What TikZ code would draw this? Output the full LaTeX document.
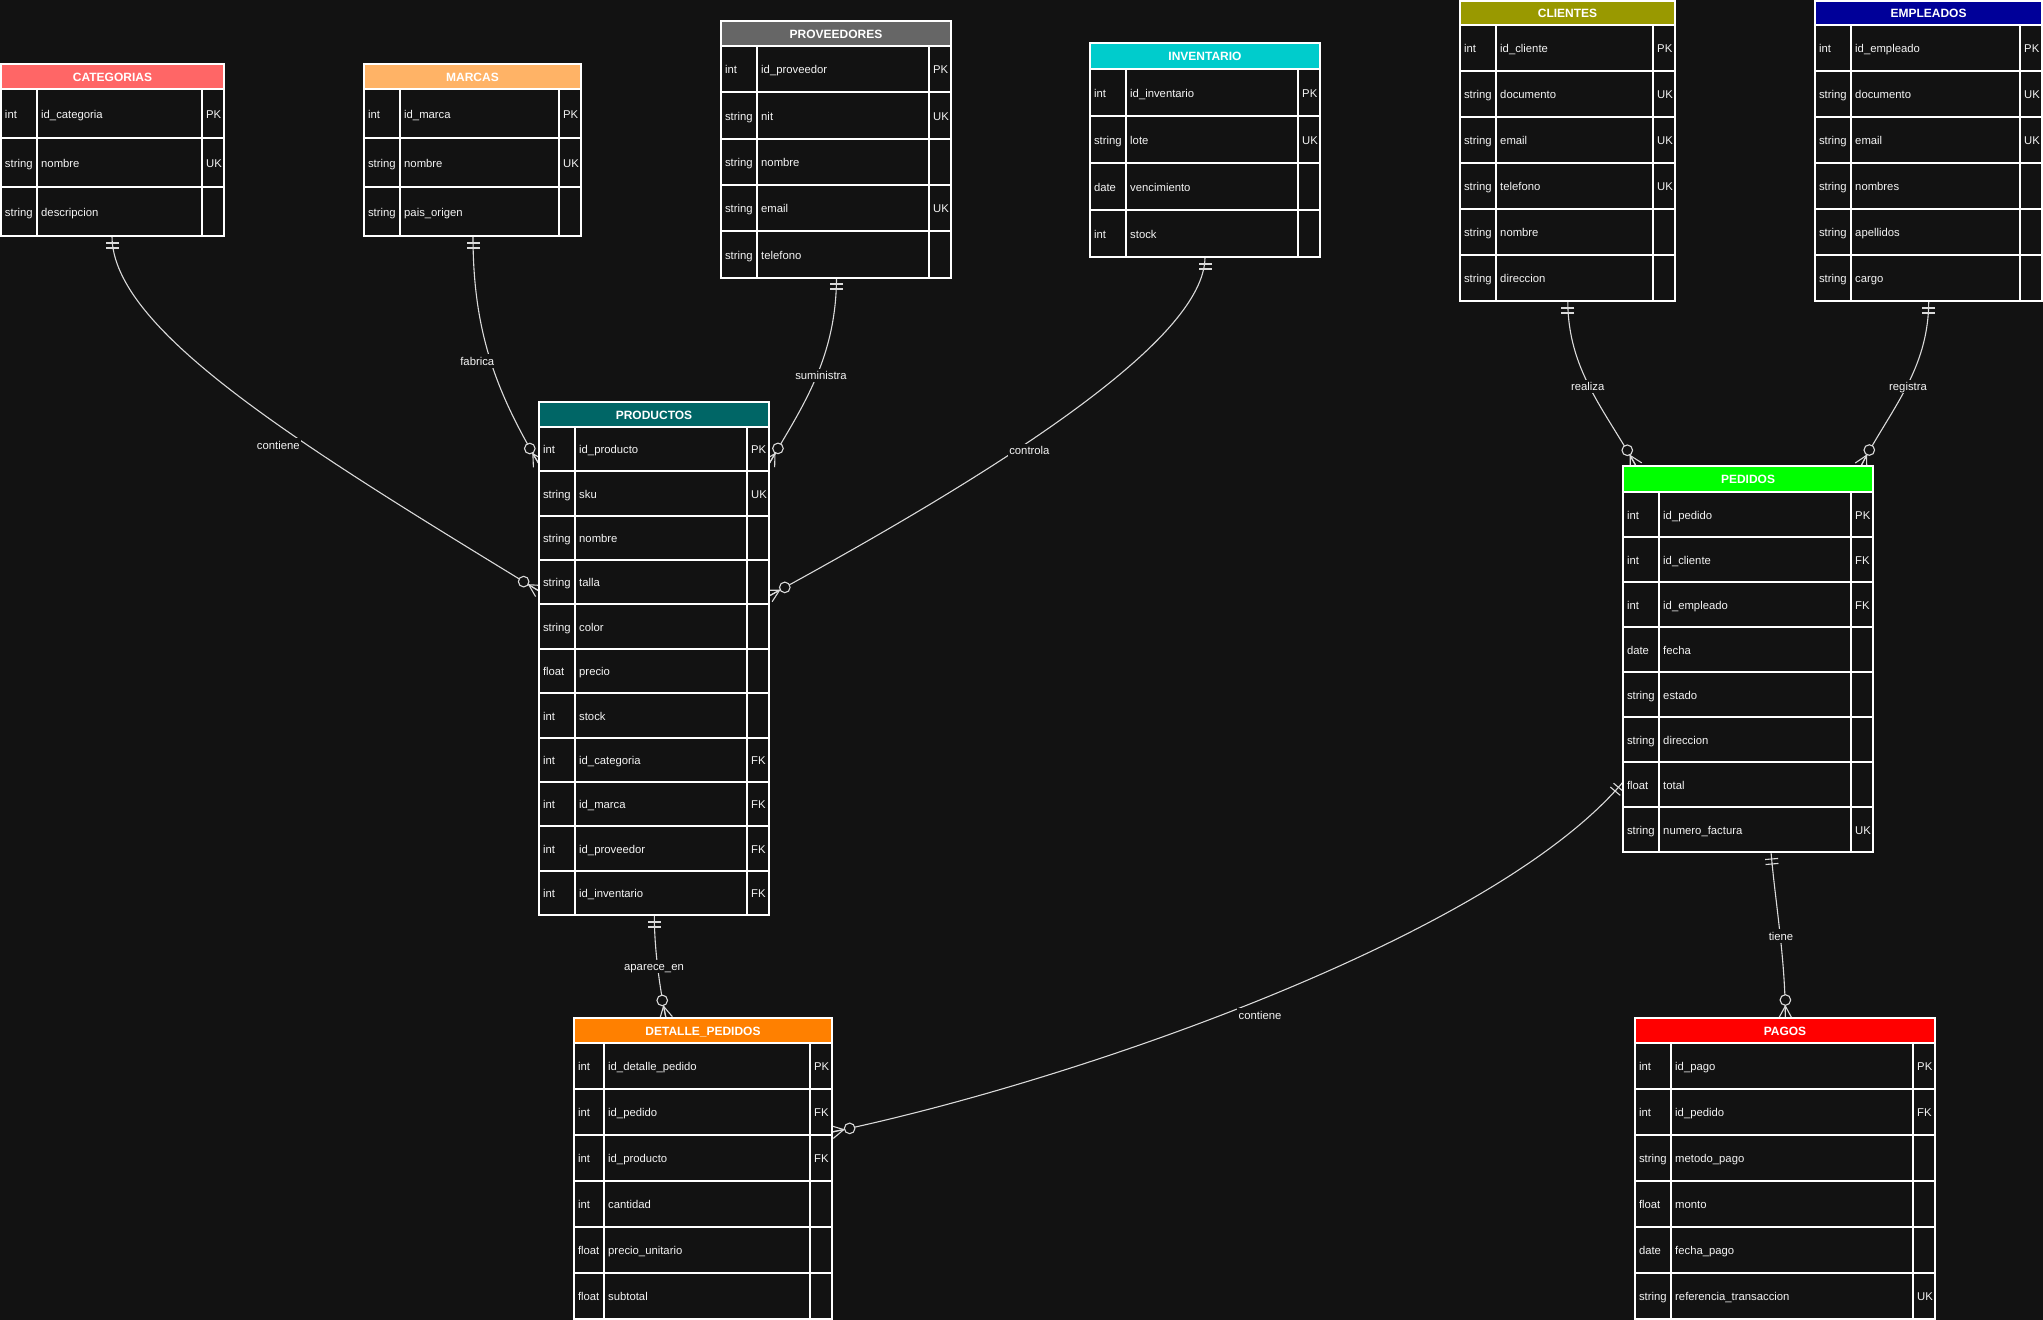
\documentclass[tikz,border=0pt]{standalone}
\usepackage{fontspec}
\setmainfont{Liberation Sans}
\usetikzlibrary{calc,fit}
\definecolor{bg}{HTML}{121212}
\definecolor{txt}{HTML}{F4F4F4}
\definecolor{lnc}{HTML}{DADADA}
\definecolor{cCat}{HTML}{FF6666}
\definecolor{cMar}{HTML}{FFB366}
\definecolor{cPro}{HTML}{666666}
\definecolor{cInv}{HTML}{00CCCC}
\definecolor{cCli}{HTML}{999900}
\definecolor{cEmp}{HTML}{000099}
\definecolor{cPrd}{HTML}{006666}
\definecolor{cPed}{HTML}{00FF00}
\definecolor{cDet}{HTML}{FF8000}
\definecolor{cPag}{HTML}{FF0000}
\tikzset{
  tbl/.style={draw=white, line width=1.2pt},
  fld/.style={text=txt, font=\fontsize{11.3}{13}\selectfont, inner sep=0pt, anchor=west, text height=9pt, text depth=0pt},
  hdr/.style={text=white, font=\bfseries\fontsize{12}{14}\selectfont, inner sep=0pt, text height=9.4pt, text depth=0pt},
  rel/.style={draw=lnc, line width=1.1pt},
  lbl/.style={fill=bg, text=txt, font=\fontsize{11.3}{13}\selectfont, inner sep=1.6pt, text height=9pt, text depth=1pt},
}
\def\ERgeo#1/#2/#3/#4/#5/#6\relax{\def\gxa{#1}\def\gxb{#2}\def\gya{#3}\def\gyh{#4}\def\grh{#5}\def\gtw{#6}}
\newcommand{\ERtable}[5]{%
  \ERgeo#2\relax
  \foreach \ty/\nm/\ky [count=\n] in {#5} {\xdef\gN{\n}}%
  \pgfmathsetmacro\gtc{round(\gxa+\gtw)}%
  \pgfmathsetmacro\gkc{round(\gxb-22)}%
  \pgfmathsetmacro\gxm{(\gxa+\gxb)/2}%
  \pgfmathsetmacro\gyhm{(\gya+\gyh)/2}%
  \pgfmathsetmacro\gbot{round(\gyh+\gN*\grh)}%
  \fill[#3] (\gxa,\gya) rectangle (\gxb,\gyh);
  \fill[bg] (\gxa,\gyh) rectangle (\gxb,\gbot);
  \node[hdr] (#1-h) at (\gxm,\gyhm) {#4};
  \draw[tbl] (\gtc,\gyh) -- (\gtc,\gbot) (\gkc,\gyh) -- (\gkc,\gbot);
  \foreach \ty/\nm/\ky [count=\i] in {#5} {
    \pgfmathsetmacro\ra{round(\gyh+(\i-1)*\grh)}
    \pgfmathsetmacro\rb{round(\gyh+\i*\grh)}
    \pgfmathsetmacro\rowmid{(\ra+\rb)/2}
    \draw[tbl] (\gxa,\rb) -- (\gxb,\rb);
    \node[fld] (#1-t\i) at (\gxa+3.8,\rowmid) {\ty};
    \node[fld] (#1-n\i) at (\gtc+4,\rowmid) {\nm};
    \node[fld] (#1-k\i) at (\gkc+4,\rowmid) {\ky};
  }
  \draw[tbl] (\gxa,\gyh) -- (\gxb,\gyh);
  \draw[tbl] (\gxa,\gya) rectangle (\gxb,\gbot);
  \coordinate (#1-nw) at (\gxa,\gya);
  \coordinate (#1-se) at (\gxb,\gbot);
  \node[fit=(#1-nw)(#1-se), inner sep=0pt] (#1) {};
}
\newcommand\markone[2]{%
  \coordinate (#1-m1) at ($(#1)!7pt!(#2)$);
  \coordinate (#1-m2) at ($(#1)!12pt!(#2)$);
  \draw[rel] ($(#1-m1)!6.5pt!90:(#2)$) -- ($(#1-m1)!6.5pt!-90:(#2)$);
  \draw[rel] ($(#1-m2)!6.5pt!90:(#2)$) -- ($(#1-m2)!6.5pt!-90:(#2)$);
}
\newcommand\markmany[2]{%
  \coordinate (#1-ap) at ($(#1)!12pt!(#2)$);
  \coordinate (#1-cc) at ($(#1)!18pt!(#2)$);
  \draw[rel] ($(#1)!6.5pt!90:(#2)$) -- (#1-ap) -- ($(#1)!6.5pt!-90:(#2)$);
  \draw[rel] (#1-ap) -- (#1);
  \draw[rel, fill=bg] (#1-cc) circle[radius=5.3pt];
}
\begin{document}
\begin{tikzpicture}[x=1pt,y=-1pt]
\fill[bg] (0,0) rectangle (2043,1320);
\useasboundingbox (0,0) rectangle (2043,1320);

% connector end points and control points
\coordinate (s1) at (112,236);     \coordinate (s1c) at (112,330);
\coordinate (e1) at (539,591);     \coordinate (e1c) at (300,445);
\coordinate (s2) at (473,236);     \coordinate (s2c) at (473,330);
\coordinate (e2) at (539,464);     \coordinate (e2c) at (495,390);
\coordinate (s3) at (836.5,277);   \coordinate (s3c) at (836.5,360);
\coordinate (e3) at (769,464);     \coordinate (e3c) at (800,410);
\coordinate (s4) at (1205,257);    \coordinate (s4c) at (1205,340);
\coordinate (e4) at (769,596);     \coordinate (e4c) at (1000,470);
\coordinate (s5) at (1567.8,301);  \coordinate (s5c) at (1567.8,370);
\coordinate (e5) at (1636,466);    \coordinate (e5c) at (1605,410);
\coordinate (s6) at (1928.7,301);  \coordinate (s6c) at (1928.7,370);
\coordinate (e6) at (1861,466);    \coordinate (e6c) at (1890,410);
\coordinate (s7) at (1771,852);    \coordinate (s7c) at (1775,900);
\coordinate (e7) at (1785.3,1018); \coordinate (e7c) at (1785.5,960);
\coordinate (s8) at (654.3,915);   \coordinate (s8c) at (654.3,950);
\coordinate (e8) at (666,1018);    \coordinate (e8c) at (660,990);
\coordinate (s9) at (1623,782);    \coordinate (s9c) at (1490,940);
\coordinate (e9) at (832,1132);    \coordinate (e9c) at (1060,1085);

\foreach \k in {1,...,9} {
  \draw[rel] (s\k) .. controls (s\k c) and (e\k c) .. (e\k);
}
\foreach \k in {1,...,9} {
  \markone{s\k}{s\k c}
  \markmany{e\k}{e\k c}
}

\node[lbl] (l1) at (278.3,445) {contiene};
\node[lbl] (l2) at (477.3,361) {fabrica};
\node[lbl] (l3) at (821,375.3) {suministra};
\node[lbl] (l4) at (1029.4,450.8) {controla};
\node[lbl] (l5) at (1587.7,386.3) {realiza};
\node[lbl] (l6) at (1908,386.3) {registra};
\node[lbl] (l7) at (1781,936) {tiene};
\node[lbl] (l8) at (654,966.7) {aparece\_en};
\node[lbl] (l9) at (1260,1015) {contiene};

% tables
\ERtable{cat}{1/224/64/89/49/36}{cCat}{CATEGORIAS}{int/id\_categoria/PK, string/nombre/UK, string/descripcion/{}}
\ERtable{mar}{364/581/64/89/49/36}{cMar}{MARCAS}{int/id\_marca/PK, string/nombre/UK, string/pais\_origen/{}}
\ERtable{pro}{721/951/21/46/46.3/36}{cPro}{PROVEEDORES}{int/id\_proveedor/PK, string/nit/UK, string/nombre/{}, string/email/UK, string/telefono/{}}
\ERtable{inv}{1090/1320/43/69/47/36}{cInv}{INVENTARIO}{int/id\_inventario/PK, string/lote/UK, date/vencimiento/{}, int/stock/{}}
\ERtable{cli}{1460/1675/1/25/46/36}{cCli}{CLIENTES}{int/id\_cliente/PK, string/documento/UK, string/email/UK, string/telefono/UK, string/nombre/{}, string/direccion/{}}
\ERtable{emp}{1815/2042/1/25/46/36}{cEmp}{EMPLEADOS}{int/id\_empleado/PK, string/documento/UK, string/email/UK, string/nombres/{}, string/apellidos/{}, string/cargo/{}}
\ERtable{prd}{539/769/402/427/44.36/36}{cPrd}{PRODUCTOS}{int/id\_producto/PK, string/sku/UK, string/nombre/{}, string/talla/{}, string/color/{}, float/precio/{}, int/stock/{}, int/id\_categoria/FK, int/id\_marca/FK, int/id\_proveedor/FK, int/id\_inventario/FK}
\ERtable{ped}{1623/1873/466/492/45/36}{cPed}{PEDIDOS}{int/id\_pedido/PK, int/id\_cliente/FK, int/id\_empleado/FK, date/fecha/{}, string/estado/{}, string/direccion/{}, float/total/{}, string/numero\_factura/UK}
\ERtable{det}{574/832/1018/1043/46/30}{cDet}{DETALLE\_PEDIDOS}{int/id\_detalle\_pedido/PK, int/id\_pedido/FK, int/id\_producto/FK, int/cantidad/{}, float/precio\_unitario/{}, float/subtotal/{}}
\ERtable{pag}{1635/1935/1018/1043/46/36}{cPag}{PAGOS}{int/id\_pago/PK, int/id\_pedido/FK, string/metodo\_pago/{}, float/monto/{}, date/fecha\_pago/{}, string/referencia\_transaccion/UK}
\end{tikzpicture}
\end{document}
